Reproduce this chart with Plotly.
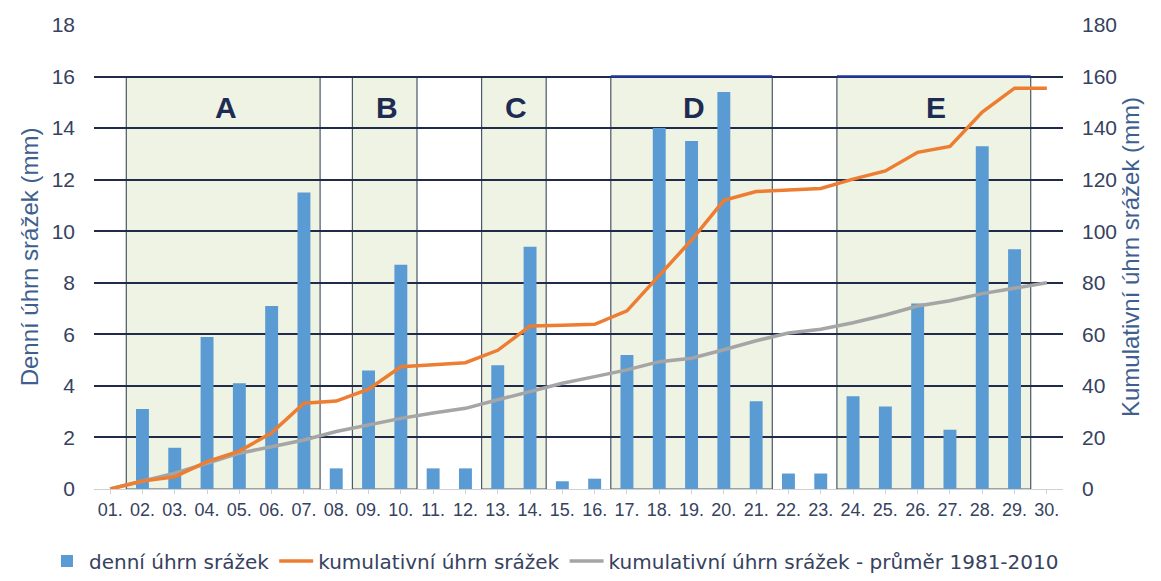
import plotly.graph_objects as go

days = [f"{d:02d}." for d in range(1, 31)]
daily = [0, 3.1, 1.6, 5.9, 4.1, 7.1, 11.5, 0.8, 4.6, 8.7, 0.8, 0.8, 4.8, 9.4, 0.3,
         0.4, 5.2, 14.0, 13.5, 15.4, 3.4, 0.6, 0.6, 3.6, 3.2, 7.2, 2.3, 13.3, 9.3, 0]
cumul = [0, 3.1, 4.7, 10.6, 14.7, 21.8, 33.3, 34.1, 38.7, 47.4, 48.2, 49.0, 53.8, 63.2, 63.5,
         63.9, 69.1, 83.1, 96.6, 112.0, 115.4, 116.0, 116.6, 120.2, 123.4, 130.6, 132.9, 146.2, 155.5, 155.5]
normal = [0, 3.2, 6.1, 10.0, 13.9, 16.4, 19.0, 22.3, 24.9, 27.4, 29.5, 31.3, 34.6, 37.8, 41.0,
          43.6, 46.2, 49.4, 50.7, 54.0, 57.5, 60.5, 62.0, 64.5, 67.5, 71.0, 73.0, 75.8, 77.8, 80.0]

# periods: label, first day index, last day index (0-based)
period_labels = ["A", "B", "C", "D", "E"]
period_start = [1, 8, 12, 16, 23]
period_end = [6, 9, 13, 20, 28]
period_top = [16, 16, 16, 16, 16]

names = ["denní úhrn srážek", "kumulativní úhrn srážek", "kumulativní úhrn srážek - průměr 1981-2010"]

TXT = "#36425E"

fig = go.Figure()
fig.add_trace(go.Bar(x=days, y=daily, name=names[0], marker_color="#5A9BD3",
                     marker_line_width=0, yaxis="y", legendrank=1))
fig.add_trace(go.Scatter(x=days, y=normal, name=names[2], mode="lines",
                         line=dict(color="#A5A5A5", width=3.5), yaxis="y2", legendrank=3))
fig.add_trace(go.Scatter(x=days, y=cumul, name=names[1], mode="lines",
                         line=dict(color="#ED7D31", width=3.5), yaxis="y2", legendrank=2))

shapes = []
annotations = []
for lab, s, e, top in zip(period_labels, period_start, period_end, period_top):
    shapes.append(dict(type="rect", xref="x", yref="y", x0=s - 0.5, x1=e + 0.5, y0=0, y1=top,
                       fillcolor="#EEF3E4", line=dict(color="#4A5868", width=1.2), layer="below"))
    if lab in ("D", "E"):
        shapes.append(dict(type="line", xref="x", yref="y", x0=s - 0.5, x1=e + 0.5, y0=top, y1=top,
                           line=dict(color="#22369A", width=2.5), layer="above"))
    annotations.append(dict(x=(s + e) / 2 + 0.08, y=14.8, xref="x", yref="y", text=f"<b>{lab}</b>",
                            showarrow=False, font=dict(family="Liberation Sans, Arial", size=30, color="#1E2B52")))

fig.update_layout(
    width=1161, height=581,
    margin=dict(l=94, r=98, t=25, b=92, autoexpand=False),
    paper_bgcolor="white", plot_bgcolor="white",
    bargap=0.6,
    shapes=shapes,
    annotations=annotations,
    font=dict(family="Liberation Sans, Arial", color=TXT),
    xaxis=dict(type="category", categoryorder="array", categoryarray=days, automargin=False,
               range=[-0.5, 29.5], showgrid=False, showline=True, linecolor="#D0D0D0",
               linewidth=1, ticks="outside", tickcolor="#D0D0D0", ticklen=4,
               tickfont=dict(family="Liberation Sans, Arial", size=18, color=TXT)),
    yaxis=dict(range=[0, 18], dtick=2, showgrid=True, gridcolor="#1F2B48", gridwidth=1.5,
               zeroline=False, ticks="", ticklabelstandoff=18, automargin=False,
               tickfont=dict(size=21, color=TXT),
               title=dict(text="Denní úhrn srážek (mm)", font=dict(size=24, color="#3F5F8F"), standoff=6)),
    yaxis2=dict(range=[0, 180], dtick=20, overlaying="y", side="right", showgrid=False,
                zeroline=False, ticks="", ticklabelstandoff=18, automargin=False,
                tickfont=dict(size=21, color=TXT),
                title=dict(text="Kumulativní úhrn srážek (mm)", font=dict(size=24, color="#3F5F8F"), standoff=6)),
    legend=dict(orientation="h", x=-0.0506, xanchor="left", y=-0.155, yanchor="middle",
                traceorder="normal", itemwidth=34, tracegroupgap=0,
                font=dict(family="DejaVu Sans, sans-serif", size=20, color=TXT)),
)

fig.write_html("out.html", config={"displayModeBar": False},
               post_script="document.body.style.margin='0';")
